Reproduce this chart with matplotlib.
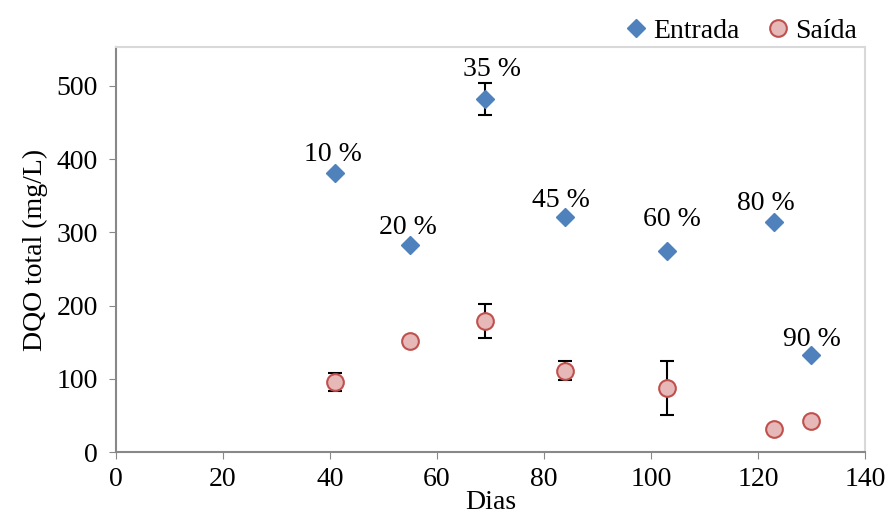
import matplotlib.pyplot as plt

plt.rcParams['font.family'] = ['Liberation Serif', 'DejaVu Serif']

dias = [41, 55, 69, 84, 103, 123, 130]
entrada = [381, 283, 482, 321, 275, 314, 132]
entrada_err = [0, 0, 22, 0, 0, 0, 0]
saida = [96, 152, 179, 111, 87, 31, 42]
saida_err = [12, 0, 23, 13, 37, 0, 0]
rotulos = ['10 %', '20 %', '35 %', '45 %', '60 %', '80 %', '90 %']
rot_pos = [(40.6, 406), (54.6, 306), (70.2, 522), (83.1, 343), (104, 317), (121.5, 340), (130, 154)]

fig = plt.figure(figsize=(8.88, 5.24), dpi=100)
ax = fig.add_axes([0.1306, 0.1374, 0.8435, 0.7726])

ax.errorbar(dias, entrada, yerr=entrada_err, fmt='D', color='#4F81BD', ms=9,
            mec='#4F81BD', ecolor='black', elinewidth=1.5, capsize=5, capthick=1.5,
            label='Entrada', zorder=3)
ax.errorbar(dias, saida, yerr=saida_err, fmt='o', mfc='#E6B9B8', mec='#C0504D', mew=1.5,
            ms=12, ecolor='black', elinewidth=1.5, capsize=5, capthick=1.5,
            label='Saída', zorder=3)

for txt, (x, y) in zip(rotulos, rot_pos):
    ax.text(x, y, txt, ha='center', va='center', fontsize=20)

ax.set_xlim(0, 140)
ax.set_ylim(0, 553)
ax.set_xticks(range(0, 141, 20))
ax.set_yticks(range(0, 501, 100))
ax.tick_params(labelsize=20, direction='out', length=5, color='#888888')
ax.tick_params(axis='y', pad=8)
ax.tick_params(axis='x', pad=6)
for s in ['left', 'bottom']:
    ax.spines[s].set_color('#888888')
    ax.spines[s].set_linewidth(1.5)
for s in ['top', 'right']:
    ax.spines[s].set_color('#d9d9d9')
    ax.spines[s].set_linewidth(1.5)

ax.set_xlabel('Dias', fontsize=20, labelpad=-2)
ax.set_ylabel('DQO total (mg/L)', fontsize=20, labelpad=6)

h, l = ax.get_legend_handles_labels()
h = [x[0] for x in h]
fig.legend(h, l, loc='upper right', bbox_to_anchor=(0.993, 1.013), ncol=2, frameon=False,
           fontsize=20, handletextpad=0.0, columnspacing=0.8, handlelength=1.2)

fig.savefig('out.png', dpi=100)
